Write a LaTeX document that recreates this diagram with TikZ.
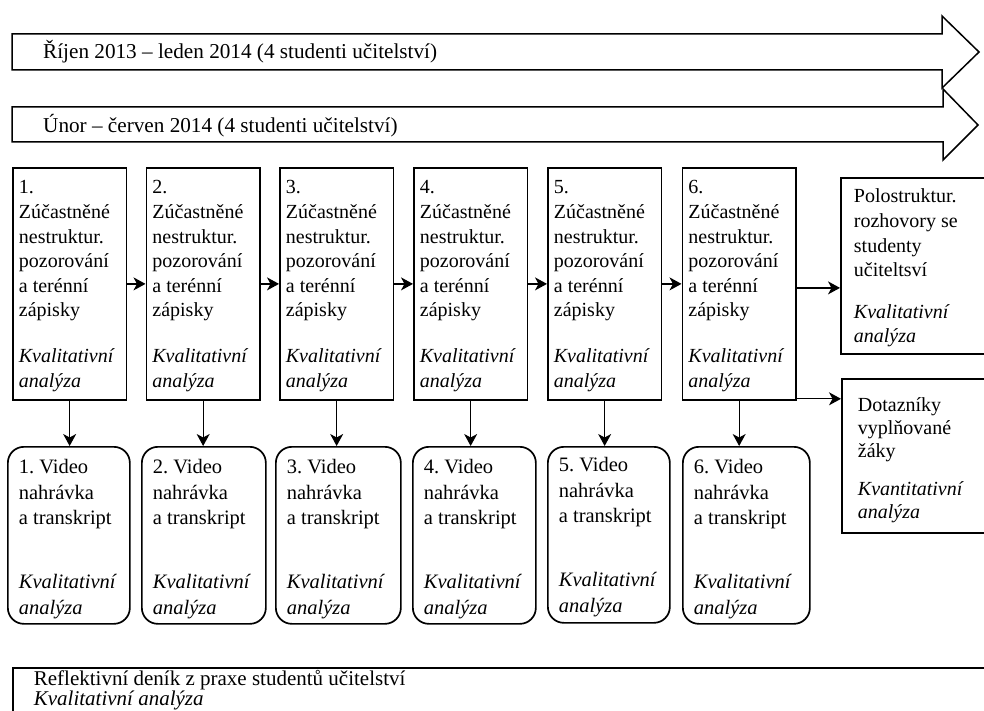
\documentclass[tikz,border=0pt]{standalone}
\usepackage{fontspec}
\setmainfont{Liberation Serif}
\usetikzlibrary{arrows.meta}
\frenchspacing
\newcommand\mytop[2]{\vtop{\hsize=#1\relax\parindent=0pt\raggedright\lineskiplimit=-20pt\relax #2}}
\tikzset{
  txt/.style={font=\fontsize{20}{24.6}\selectfont},
  tbox/.style={draw, line width=1.8pt, anchor=north west, inner xsep=6pt, inner ysep=0pt,
    text height=26pt, text depth=206pt, txt},
  rbox/.style={draw, line width=1.7pt, rounded corners=16pt, anchor=north west, inner xsep=11pt,
    inner ysep=0pt, text height=27pt, text depth=150pt, font=\fontsize{20.5}{25.3}\selectfont},
  sbox/.style={draw, line width=1.8pt, anchor=north west, inner ysep=0pt, txt},
  bigarrow/.style={draw, line width=1.5pt, line join=miter},
  conn/.style={line width=1.3pt, -{Stealth[length=12pt, width=13pt, inset=3.5pt]}}
}
\newcommand\topcontent[1]{\mytop{101.5pt}{#1.\par Zúčastněné\par nestruktur.\par pozorování\par a terénní\par zápisky\par\vskip 21pt \textit{Kvalitativní}\par\textit{analýza}}}
\newcommand\vidcontent[2]{\mytop{#2}{#1. Video\par nahrávka\par a transkript\par\vskip 39pt \textit{Kvalitativní}\par\textit{analýza}}}
\begin{document}
\begin{tikzpicture}[x=1pt, y=-1pt]
\useasboundingbox (0,0) rectangle (984,711);
\clip (0,0) rectangle (984,711);
\fill[white] (0,0) rectangle (984,711);

% period arrows
\draw[bigarrow] (12,34) -- (942,34) -- (942,16) -- (979,52) -- (942,88) -- (942,70) -- (12,70) -- cycle;
\draw[bigarrow] (12,107) -- (943,107) -- (943,89) -- (978,125) -- (943,160) -- (943,142) -- (12,142) -- cycle;
\node[font=\fontsize{21.2}{25}\selectfont, anchor=base west, inner sep=0pt] (p1) at (43,59) {Říjen 2013 – leden 2014 (4 studenti učitelství)};
\node[font=\fontsize{21.2}{25}\selectfont, anchor=base west, inner sep=0pt] (p2) at (43,133) {Únor – červen 2014 (4 studenti učitelství)};

% observation boxes
\node[tbox] (b1) at (12,167) {\topcontent{1}};
\node[tbox] (b2) at (145.5,167) {\topcontent{2}};
\node[tbox] (b3) at (279,167) {\topcontent{3}};
\node[tbox] (b4) at (413,167) {\topcontent{4}};
\node[tbox] (b5) at (547,167) {\topcontent{5}};
\node[tbox] (b6) at (681.5,167) {\topcontent{6}};

% video boxes
\node[rbox] (r1) at (7,446) {\vidcontent{1}{100pt}};
\node[rbox] (r2) at (141,446) {\vidcontent{2}{102pt}};
\node[rbox] (r3) at (275,446) {\vidcontent{3}{103pt}};
\node[rbox] (r4) at (412,446) {\vidcontent{4}{101pt}};
\node[rbox, text height=25pt, text depth=151pt] (r5) at (547,446) {\vidcontent{5}{100pt}};
\node[rbox] (r6) at (682,446) {\vidcontent{6}{105pt}};

% right boxes
\node[sbox, inner xsep=13pt, text height=25pt, text depth=151pt] (pol) at (840,177)
  {\mytop{134pt}{Polostruktur.\par rozhovory se\par studenty\par učiteltsví\par\vskip 17pt \textit{Kvalitativní}\par\textit{analýza}}};
\node[sbox, inner xsep=16pt, text height=33pt, text depth=121pt] (dot) at (841,378)
  {\mytop{128pt}{\baselineskip=23pt Dotazníky\par vyplňované\par žáky\par\vskip 15pt \textit{Kvantitativní}\par\textit{analýza}}};

% reflective diary
\node[sbox, font=\fontsize{21}{20.5}\selectfont, inner xsep=21pt, text height=17.5pt, text depth=60pt] (refl) at (12,667)
  {\mytop{940pt}{Reflektivní deník z praxe studentů učitelství\par\textit{Kvalitativní analýza}}};

% connectors
\draw[conn] (b1) -- (b2);
\draw[conn] (b2) -- (b3);
\draw[conn] (b3) -- (b4);
\draw[conn] (b4) -- (b5);
\draw[conn] (b5) -- (b6);
\draw[conn] ([yshift=-4pt]b6.east) -- ([yshift=-4pt]b6.east -| pol.west);
\draw[conn] ([yshift=2pt]b6.south east) -- ([yshift=2pt]b6.south east -| dot.west);
\foreach \i in {1,...,6}{
  \draw[conn] (b\i.south) -- (b\i.south |- r\i.north);
}
\end{tikzpicture}
\end{document}
